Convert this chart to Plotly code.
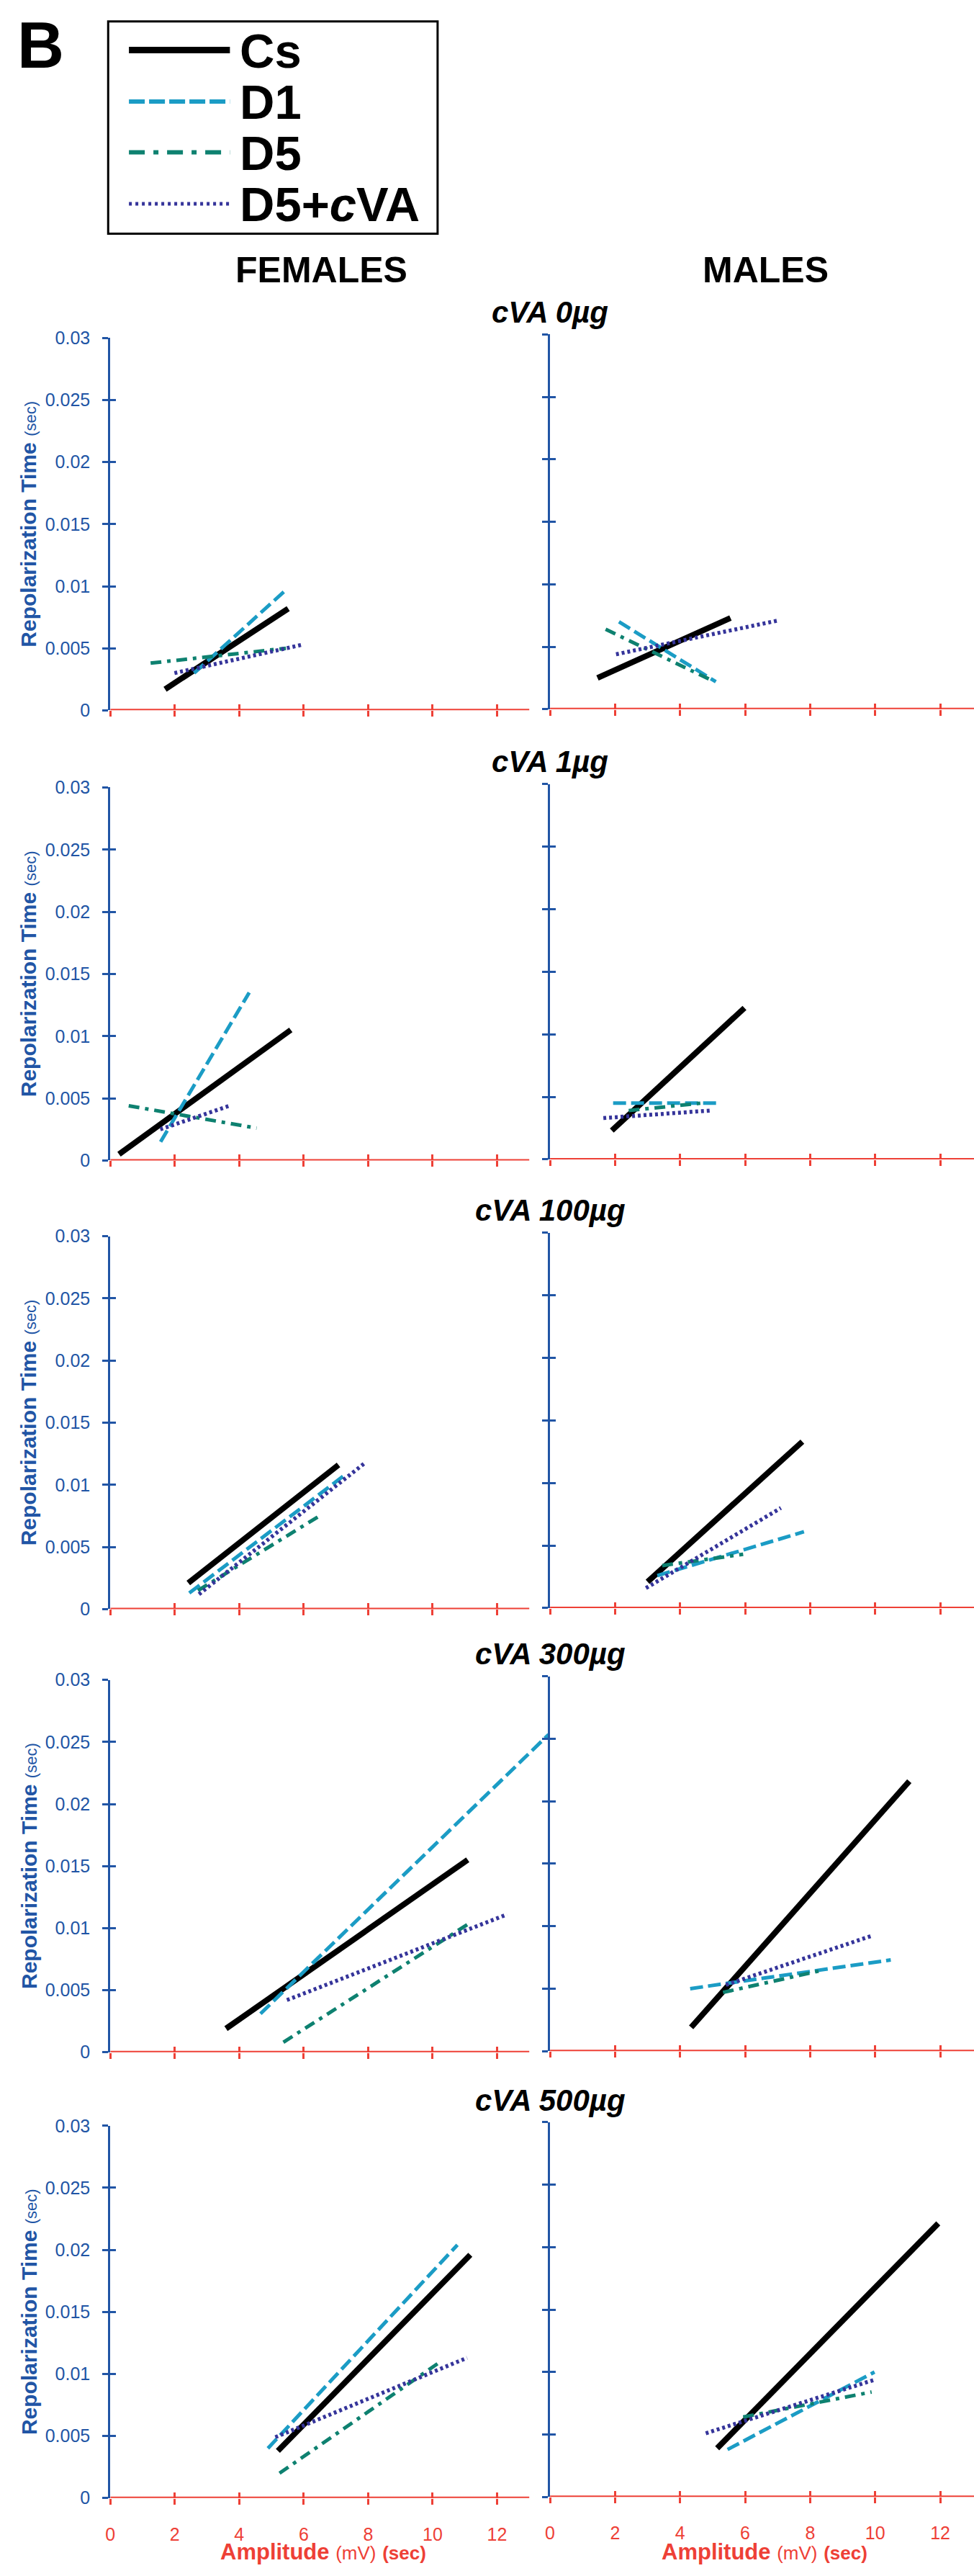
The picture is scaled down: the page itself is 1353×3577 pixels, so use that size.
import plotly.graph_objects as go

# ---------------- data ----------------
DOSES = ["cVA 0µg", "cVA 1µg", "cVA 100µg", "cVA 300µg", "cVA 500µg"]
SERIES = ["Cs", "D1", "D5", "D5+cVA"]
LEGEND_TEXT = ["Cs", "D1", "D5", "D5+<i>c</i>VA"]

# each entry: (start, end) of the fitted line in one dose panel
F_CS_X = [(1.70, 5.52), (0.27, 5.60), (2.42, 7.08), (3.59, 11.09), (5.20, 11.17)]
F_CS_Y = [(0.0017, 0.0082), (0.0005, 0.0105), (0.0021, 0.0116), (0.0019, 0.0155), (0.0038, 0.0196)]
F_D1_X = [(2.60, 5.45), (1.56, 4.31), (2.45, 7.33), (4.66, 13.60), (4.89, 10.77)]
F_D1_Y = [(0.0030, 0.0097), (0.0015, 0.0135), (0.0013, 0.0109), (0.0031, 0.0256), (0.0040, 0.0204)]
F_D5_X = [(1.25, 5.45), (0.57, 4.54), (2.72, 6.49), (5.37, 11.09), (5.25, 10.25)]
F_D5_Y = [(0.0038, 0.0050), (0.0044, 0.0026), (0.0015, 0.0075), (0.0008, 0.0103), (0.0020, 0.0110)]
F_DC_X = [(1.99, 5.98), (1.55, 3.70), (2.75, 7.92), (5.48, 12.31), (5.12, 11.07)]
F_DC_Y = [(0.0030, 0.0053), (0.0025, 0.0044), (0.0012, 0.0118), (0.0042, 0.0111), (0.0049, 0.0113)]

M_CS_X = [(1.46, 5.55), (1.90, 5.98), (3.00, 7.76), (4.34, 11.05), (5.14, 11.94)]
M_CS_Y = [(0.0025, 0.0073), (0.0023, 0.0121), (0.0021, 0.0133), (0.0019, 0.0216), (0.0039, 0.0219)]
M_D1_X = [(2.12, 5.10), (1.94, 5.20), (3.30, 7.81), (4.31, 10.48), (5.46, 9.98)]
M_D1_Y = [(0.0070, 0.0022), (0.0045, 0.0045), (0.0026, 0.0061), (0.0050, 0.0073), (0.0038, 0.0100)]
M_D5_X = [(1.71, 4.90), (2.42, 4.66), (3.45, 5.94), (5.32, 8.43), (5.94, 9.89)]
M_D5_Y = [(0.0064, 0.0024), (0.0039, 0.0045), (0.0034, 0.0043), (0.0047, 0.0065), (0.0064, 0.0084)]
M_DC_X = [(2.03, 7.01), (1.64, 4.91), (2.95, 7.10), (5.41, 9.86), (4.79, 10.00)]
M_DC_Y = [(0.0044, 0.0071), (0.0033, 0.0039), (0.0016, 0.0080), (0.0053, 0.0092), (0.0051, 0.0094)]

Y_TICKS = [0, 0.005, 0.01, 0.015, 0.02, 0.025, 0.03]
Y_TICK_TEXT = ["0", "0.005", "0.01", "0.015", "0.02", "0.025", "0.03"]
X_TICKS = [0, 2, 4, 6, 8, 10, 12]
X_TICK_TEXT = ["0", "2", "4", "6", "8", "10", "12"]

# ---------------- styling / layout ----------------
W, H = 1353, 3577
FONT = "Liberation Sans, Arial, sans-serif"
BLUE = "#2155a5"
RED = "#ee4036"
STYLE = {
    "Cs": dict(color="#000000", width=8, dash="solid"),
    "D1": dict(color="#1b9cc5", width=5, dash="18px,7px"),
    "D5": dict(color="#0e8170", width=5, dash="15px,8px,5px,8px"),
    "D5+cVA": dict(color="#35349a", width=5.5, dash="4px,4px"),
}
LEG_STYLE = {
    "Cs": dict(color="#000000", width=9, dash="solid"),
    "D1": dict(color="#1b9cc5", width=6, dash="22px,6px"),
    "D5": dict(color="#0e8170", width=6, dash="22px,12px,7px,12px"),
    "D5+cVA": dict(color="#35349a", width=5, dash="4px,5px"),
}

LEFT_X0, SPLIT, RIGHT_END = 147, 761, 1353
PX_L, PX_R = 45.0, 45.4
ZERO_PX = [980, 1610, 2238, 2858, 3482]
TOP_PX = [459, 1088, 1716, 2337, 2961]


def px(x):
    return x / W


def py(y):
    return 1 - y / H


female = {"Cs": (F_CS_X, F_CS_Y), "D1": (F_D1_X, F_D1_Y), "D5": (F_D5_X, F_D5_Y), "D5+cVA": (F_DC_X, F_DC_Y)}
male = {"Cs": (M_CS_X, M_CS_Y), "D1": (M_D1_X, M_D1_Y), "D5": (M_D5_X, M_D5_Y), "D5+cVA": (M_DC_X, M_DC_Y)}

fig = go.Figure()
layout = dict(
    width=W, height=H, margin=dict(l=0, r=0, t=0, b=0),
    paper_bgcolor="white", plot_bgcolor="rgba(0,0,0,0)",
    showlegend=False, font=dict(family=FONT),
)
shapes, annotations = [], []

for row in range(5):
    for col in range(2):
        k = row * 2 + col + 1
        ko = k + 10
        sfx = "" if k == 1 else str(k)
        xr = [0, (SPLIT - LEFT_X0) / PX_L] if col == 0 else [0, (RIGHT_END - SPLIT) / PX_R]
        xdom = [px(LEFT_X0), px(SPLIT)] if col == 0 else [px(SPLIT), 1.0]
        zero = ZERO_PX[row] - (1.5 if col else 0)
        top = TOP_PX[row] - (5 if col else 0)
        ydom = [py(zero), py(top)]
        bottom = row == 4
        layout["xaxis" + sfx] = dict(
            domain=xdom, range=xr, anchor="y" + sfx, showline=False, showgrid=False, zeroline=False,
            tickvals=X_TICKS, ticktext=X_TICK_TEXT, ticks="outside", ticklen=8, tickwidth=3, tickcolor=RED,
            showticklabels=bottom, tickfont=dict(family=FONT, size=25, color=RED), ticklabelstandoff=20,
        )
        layout["yaxis" + sfx] = dict(
            domain=ydom, range=[0, 0.03], anchor="x" + sfx, showline=True, linecolor=BLUE, linewidth=3,
            showgrid=False, zeroline=False, tickvals=Y_TICKS, ticktext=Y_TICK_TEXT, ticks="outside",
            ticklen=8, tickwidth=3, tickcolor=BLUE, showticklabels=(col == 0),
            tickfont=dict(family=FONT, size=25, color=BLUE), ticklabelstandoff=12,
        )
        # overlay axes to get ticks crossing the axis lines
        layout["xaxis%d" % ko] = dict(
            overlaying="x" + sfx, anchor="y" + sfx, range=xr, showline=False, showgrid=False,
            zeroline=False, tickvals=X_TICKS, ticks="inside", ticklen=8, tickwidth=3, tickcolor=RED,
            showticklabels=False,
        )
        layout["yaxis%d" % ko] = dict(
            overlaying="y" + sfx, anchor="x" + sfx, range=[0, 0.03], showline=False, showgrid=False,
            zeroline=False, tickvals=Y_TICKS, ticks="inside", ticklen=8, tickwidth=3, tickcolor=BLUE,
            showticklabels=False,
        )
        fig.add_trace(go.Scatter(x=[None], y=[None], xaxis="x%d" % ko, yaxis="y%d" % ko,
                                 mode="lines", hoverinfo="skip", showlegend=False))
        # red x-axis baseline
        shapes.append(dict(type="line", xref="x" + sfx, yref="y" + sfx, x0=0,
                           x1=13.0 if col == 0 else xr[1], y0=0, y1=0,
                           line=dict(color=RED, width=4), layer="above"))
        data = female if col == 0 else male
        for s in SERIES:
            xs, ys = data[s]
            fig.add_trace(go.Scatter(
                x=list(xs[row]), y=list(ys[row]), mode="lines", name=s,
                xaxis="x" + sfx, yaxis="y" + sfx, line=STYLE[s], showlegend=False,
            ))
        if col == 0:
            annotations.append(dict(
                x=px(33), y=py((top + zero) / 2), xref="paper", yref="paper", textangle=-90,
                text="<b>Repolarization Time</b> <span style='font-size:22px'>(sec)</span>",
                showarrow=False, font=dict(family=FONT, size=30, color=BLUE),
                xanchor="center", yanchor="middle",
            ))
    annotations.append(dict(
        x=px(SPLIT), y=py(TOP_PX[row] - 36), xref="paper", yref="paper",
        text="<b><i>%s</i></b>" % DOSES[row], showarrow=False,
        font=dict(family=FONT, size=42, color="black"), xanchor="center", yanchor="middle",
    ))

# x-axis titles
for cx in (444, 1060):
    annotations.append(dict(
        x=px(cx), y=py(3557), xref="paper", yref="paper", showarrow=False,
        text="<b>Amplitude</b> <span style='font-size:26px'>(mV)</span> <b><span style='font-size:26px'>(sec)</span></b>",
        font=dict(family=FONT, size=31, color=RED), xanchor="center", yanchor="middle",
    ))

# column headers and panel letter
annotations.append(dict(x=px(442), y=py(364), xref="paper", yref="paper", text="<b>FEMALES</b>",
                        showarrow=False, font=dict(family=FONT, size=50, color="black"),
                        xanchor="center", yanchor="middle"))
annotations.append(dict(x=px(1062), y=py(364), xref="paper", yref="paper", text="<b>MALES</b>",
                        showarrow=False, font=dict(family=FONT, size=50, color="black"),
                        xanchor="center", yanchor="middle"))
annotations.append(dict(x=px(50), y=py(49), xref="paper", yref="paper", text="<b>B</b>",
                        showarrow=False, font=dict(family=FONT, size=90, color="black"),
                        xanchor="center", yanchor="middle"))

# legend box
shapes.append(dict(type="rect", xref="paper", yref="paper", x0=px(144), x1=px(604), y0=py(16), y1=py(313),
                   line=dict(color="black", width=3), fillcolor="rgba(0,0,0,0)"))
LEG_Y = [56, 128, 199, 271]
for s, lab, ly in zip(SERIES, LEGEND_TEXT, LEG_Y):
    shapes.append(dict(type="line", xref="paper", yref="paper", x0=px(173), x1=px(314),
                       y0=py(ly), y1=py(ly), line=LEG_STYLE[s]))
    annotations.append(dict(x=px(326), y=py(ly + 1), xref="paper", yref="paper", text="<b>%s</b>" % lab,
                            showarrow=False, font=dict(family=FONT, size=67, color="black"),
                            xanchor="left", yanchor="middle"))

layout["shapes"] = shapes
layout["annotations"] = annotations
fig.update_layout(**layout)

fig.write_html("out.html", config={"displayModeBar": False},
               post_script="document.body.style.margin='0';")
